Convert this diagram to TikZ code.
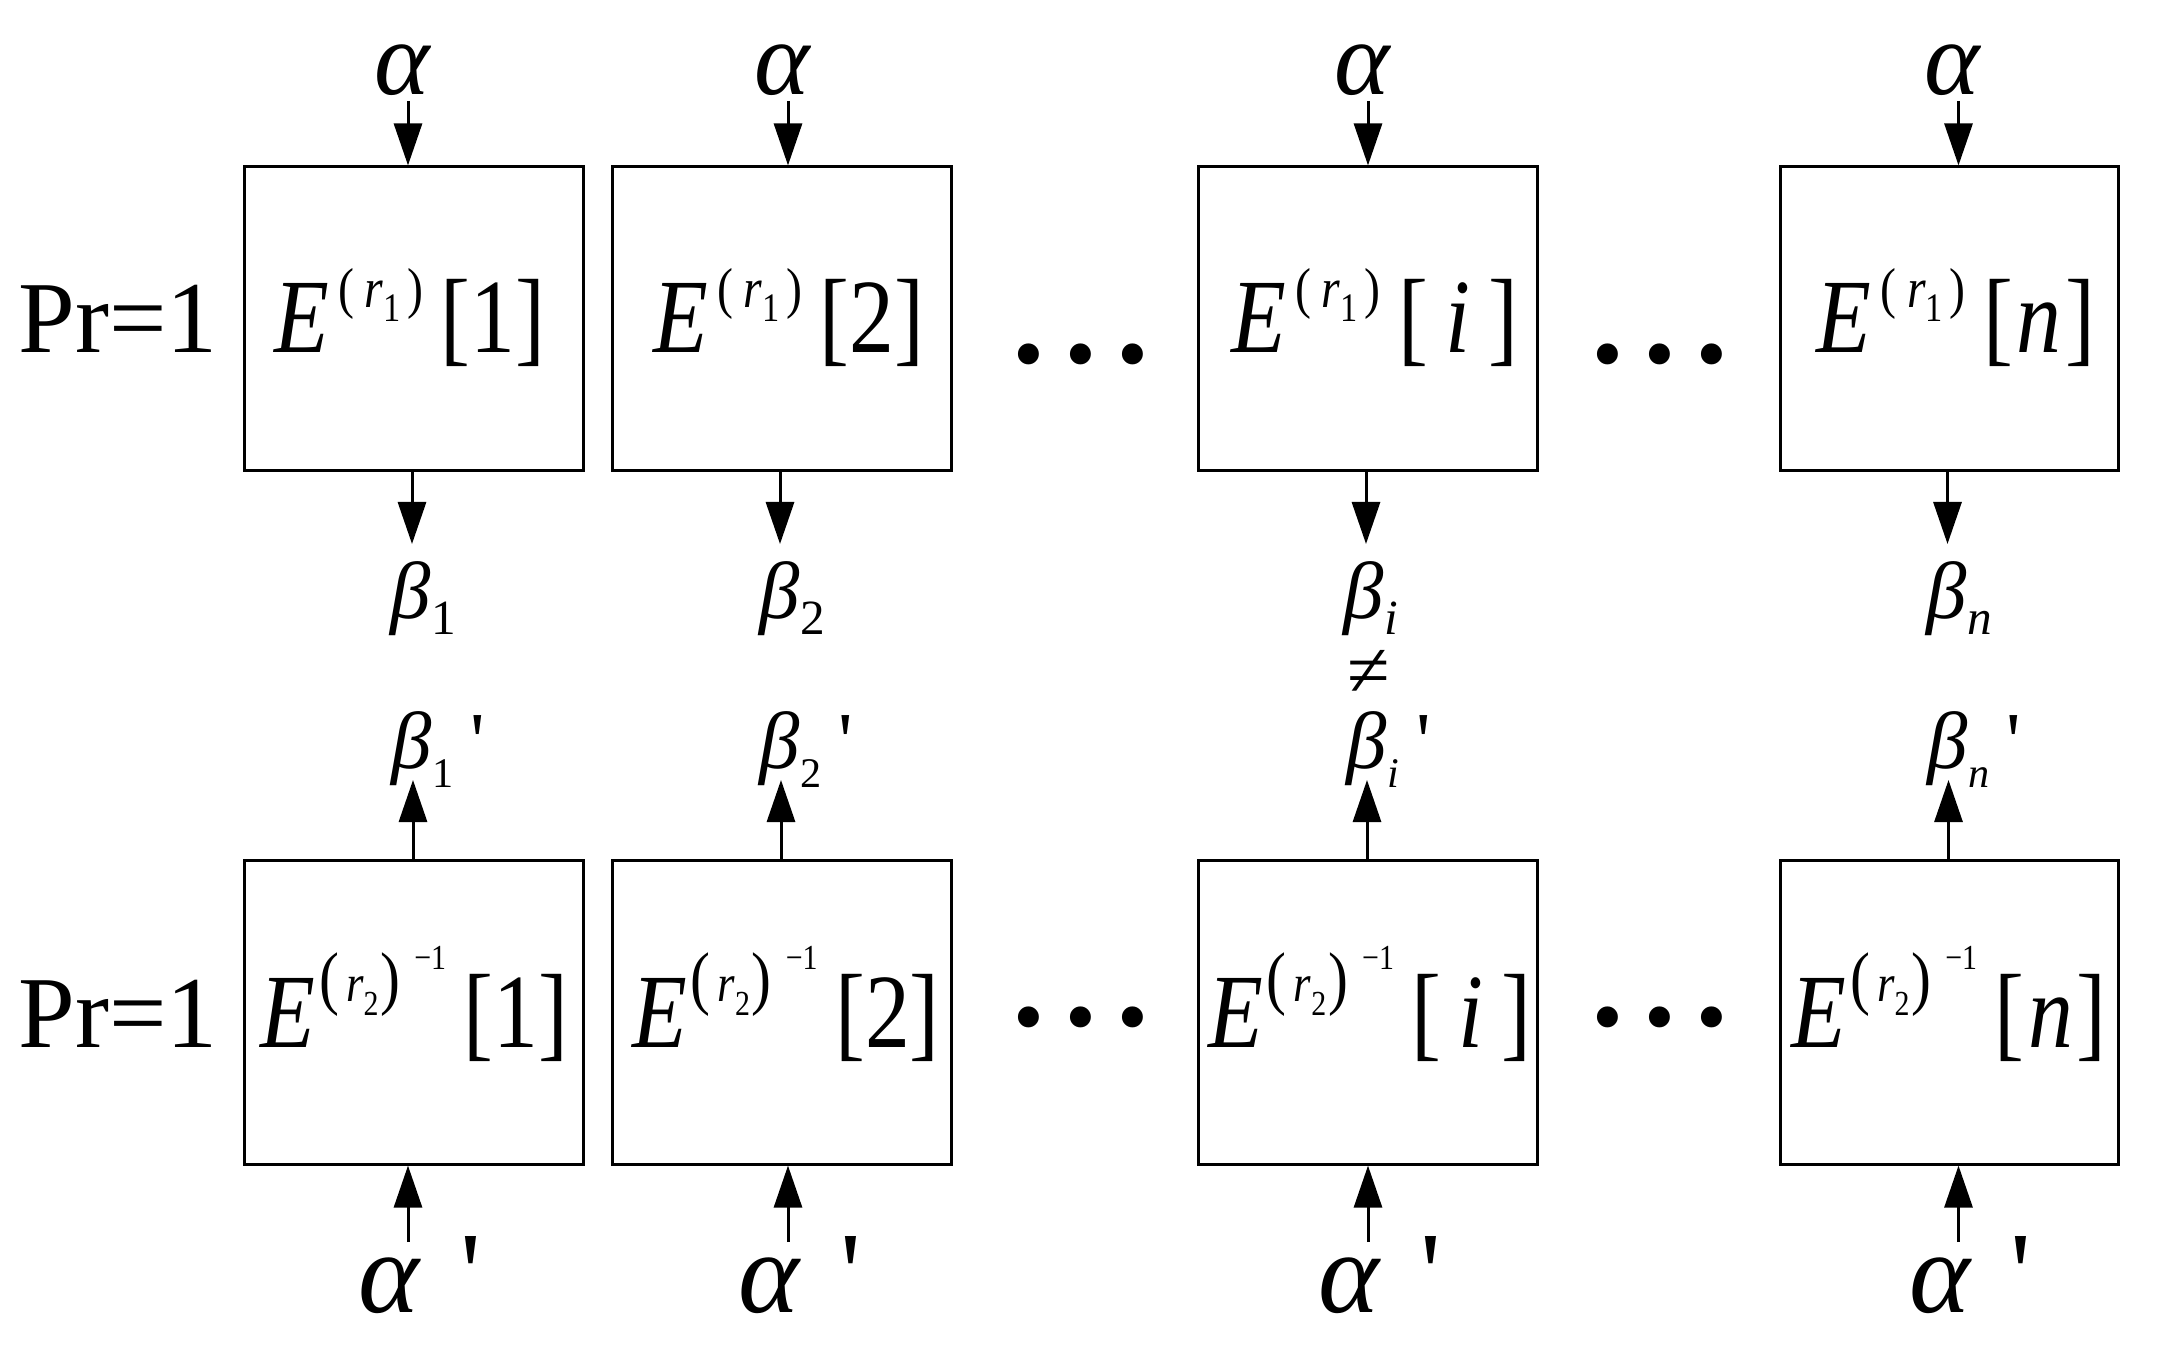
\documentclass[tikz,border=0pt]{standalone}
\usepackage{fontspec}
\setmainfont{Liberation Serif}
\newfontfamily\qf{Liberation Serif}
\newfontfamily\eqf{Liberation Serif}[FakeStretch=0.85]
\usetikzlibrary{arrows.meta}
\newcommand{\fs}[1]{\fontsize{#1}{#1}\selectfont}
\newcommand{\Etop}[1]{\eqf\fs{30}\textit{E}\kern2.5pt\raisebox{13pt}{\fs{16}(\kern3pt\textit{r}\raisebox{-4pt}{\fs{11.5}1}\kern2pt)}\kern5pt[#1]}
\newcommand{\Ebot}[1]{\eqf\fs{30}\textit{E}\kern1pt\raisebox{13pt}{\fs{20}(\kern2pt{\fs{15}\textit{r}}\raisebox{-4pt}{\fs{10}2}\kern0.5pt)\kern4pt\raisebox{9pt}{\fs{10}−1}}\kern5pt[#1]}
\newcommand{\Bt}[1]{\textit{β}\rlap{\raisebox{-4.5pt}{\fs{14}#1}}}
\newcommand{\Bp}[1]{\textit{β}\rlap{\raisebox{-5.5pt}{\fs{12}#1}\kern5pt{\qf '}}}
\begin{document}
\begin{tikzpicture}[x=0.01cm,y=-0.01cm,
  box/.style={draw,line width=0.03cm,minimum width=3.38cm,minimum height=3.03cm,inner sep=0pt},
  arr/.style={line width=0.03cm,-{Triangle[length=0.42cm,width=0.28cm]}},
  txt/.style={inner sep=0pt,anchor=base}]
\fill[white] (0,0) rectangle (2160,1358);
\useasboundingbox (0,0) rectangle (2160,1358);
\foreach \k/\cx/\ad in {1/414/-6, 2/782/6, 3/1368/0, 4/1949.5/9} {
  \node[box] (t\k) at (\cx,318.5) {};
  \node[box] (b\k) at (\cx,1012.5) {};
  \node[txt,font=\fs{30}] (ta\k) at (\cx+\ad-5,95) {\textit{α}};
  \coordinate (tas\k) at (\cx+\ad,101);
  \draw[arr] (tas\k) -- (tas\k |- t\k.north);
  \coordinate (tbe\k) at (\cx-2,544);
  \draw[arr] (tbe\k |- t\k.south) -- (tbe\k);
  \coordinate (bbe\k) at (\cx-1,780);
  \draw[arr] (bbe\k |- b\k.north) -- (bbe\k);
  \coordinate (bas\k) at (\cx+\ad,1242);
  \draw[arr] (bas\k) -- (bas\k |- b\k.south);
  \node[txt,font=\fs{33}] (ba\k) at (\cx+\ad+12,1312) {\textit{α}\hspace{11pt}{\qf '}};
}
% formulas
\node[txt] (ft1) at (410,353) {\Etop{1}};
\node[txt] (ft2) at (789,353) {\Etop{2}};
\node[txt] (ft3) at (1375,353) {\Etop{\,\textit{i}\,}};
\node[txt] (ft4) at (1956,353) {\Etop{\kern1pt\textit{n}\kern1pt}};
\node[txt] (fb1) at (414.5,1047) {\Ebot{1}};
\node[txt] (fb2) at (786,1047) {\Ebot{2}};
\node[txt] (fb3) at (1370,1047) {\Ebot{\,\textit{i}\,}};
\node[txt] (fb4) at (1949,1047) {\Ebot{\kern1pt\textit{n}\kern1pt}};
% Pr=1
\node[txt,anchor=base west,font=\fs{29}] (pr1) at (18,353) {Pr=1};
\node[txt,anchor=base west,font=\fs{29}] (pr2) at (18,1047) {Pr=1};
% dots
\node[txt,font=\fs{25}] (d1) at (1081,384) {•\hspace{6pt}•\hspace{6pt}•};
\node[txt,font=\fs{25}] (d2) at (1660,384) {•\hspace{6pt}•\hspace{6pt}•};
\node[txt,font=\fs{25}] (d3) at (1081,1046) {•\hspace{6pt}•\hspace{6pt}•};
\node[txt,font=\fs{25}] (d4) at (1660,1046) {•\hspace{6pt}•\hspace{6pt}•};
% beta labels top
\node[txt,font=\fs{23}] (tb1) at (411,619) {\Bt{1}};
\node[txt,font=\fs{23}] (tb2) at (780,619) {\Bt{2}};
\node[txt,font=\fs{23}] (tb3) at (1364,619) {\Bt{\textit{i}}};
\node[txt,font=\fs{23}] (tb4) at (1947,619) {\Bt{\textit{n}}};
\node[txt,font=\fs{22},text height=11pt,text depth=0pt] (ne) at (1369,696) {≠};
% beta prime labels
\node[txt,font=\fs{23}] (bb1) at (412,768) {\Bp{1}};
\node[txt,font=\fs{23}] (bb2) at (780,768) {\Bp{2}};
\node[txt,font=\fs{23}] (bb3) at (1367,768) {\Bp{\textit{i}}};
\node[txt,font=\fs{23}] (bb4) at (1948,768) {\Bp{\textit{n}}};
\end{tikzpicture}
\end{document}
